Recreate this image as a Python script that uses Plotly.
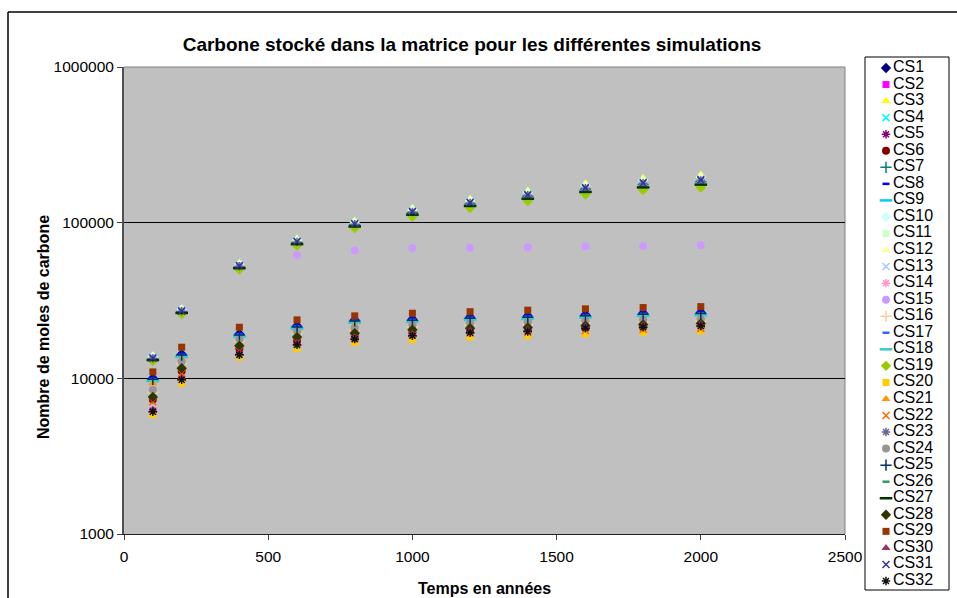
import plotly.graph_objects as go

W, H = 957, 598

years = [100, 200, 400, 600, 800, 1000, 1200, 1400, 1600, 1800, 2000]

cs1 = [10000, 14300, 19300, 21700, 23700, 24000, 24700, 25100, 25600, 26200, 26500]
cs2 = [6160, 9880, 14290, 16560, 18030, 18940, 19800, 20200, 21210, 21510, 21920]
cs3 = [14000, 28200, 55000, 79000, 103000, 124000, 142500, 161000, 179000, 194000, 204000]
cs4 = [13700, 27500, 53600, 76800, 100000, 120000, 137500, 154500, 171500, 185000, 193500]
cs5 = [6070, 9730, 14080, 16320, 17760, 18660, 19500, 19900, 20900, 21190, 21590]
cs6 = [7300, 11140, 15550, 17660, 18720, 19680, 20160, 20350, 20930, 21310, 21600]
cs7 = [13300, 26800, 52000, 74500, 96800, 115800, 132000, 147800, 163800, 176000, 183500]
cs8 = [10100, 14450, 19500, 21900, 23950, 24250, 24950, 25350, 25850, 26450, 26750]
cs9 = [9700, 13870, 18720, 21050, 22990, 23280, 23960, 24350, 24830, 25410, 25700]
cs10 = [13800, 27700, 54000, 77500, 101000, 121500, 139000, 156500, 174000, 187500, 196500]
cs11 = [7980, 12160, 16960, 19000, 19950, 20900, 21470, 21760, 22230, 22560, 22800]
cs12 = [13900, 27900, 54500, 78200, 102000, 122800, 141000, 159000, 176500, 191000, 200500]
cs13 = [13600, 27300, 53200, 76200, 99200, 119000, 136000, 152500, 169500, 182500, 191000]
cs14 = [8570, 13060, 18210, 20400, 21420, 22440, 23050, 23360, 23870, 24230, 24480]
cs15 = [13450, 27000, 52600, 62100, 66200, 68500, 69000, 69600, 70200, 70900, 71700]
cs16 = [8150, 12420, 17310, 19400, 20370, 21340, 21920, 22210, 22700, 23040, 23280]
cs17 = [9900, 14150, 19100, 21500, 23450, 23750, 24450, 24850, 25350, 25950, 26250]
cs18 = [9600, 13730, 18530, 20830, 22750, 23040, 23710, 24100, 24580, 25150, 25440]
cs19 = [12900, 25900, 50000, 71200, 92200, 109500, 124000, 137800, 151500, 162000, 168000]
cs20 = [5850, 9300, 13700, 15600, 17000, 17700, 18400, 18800, 19300, 19800, 20200]
cs21 = [9300, 13300, 17950, 20180, 22040, 22320, 22970, 23340, 23810, 24370, 24650]
cs22 = [7070, 10790, 15070, 17110, 18140, 19070, 19530, 19720, 20270, 20650, 20930]
cs23 = [13400, 27000, 52500, 75200, 97800, 117000, 133800, 150000, 166500, 179000, 187000]
cs24 = [8400, 12800, 17850, 20000, 21000, 22000, 22600, 22900, 23400, 23750, 24000]
cs25 = [9850, 14100, 19000, 21400, 23350, 23650, 24350, 24700, 25200, 25800, 26100]
cs26 = [7750, 11830, 16520, 18770, 19890, 20910, 21420, 21620, 22240, 22640, 22950]
cs27 = [13100, 26300, 51000, 72800, 94500, 112500, 128000, 142500, 157500, 168500, 175500]
cs28 = [7600, 11600, 16200, 18400, 19500, 20500, 21000, 21200, 21800, 22200, 22500]
cs29 = [11000, 15850, 21300, 23750, 25200, 26200, 26800, 27400, 27950, 28500, 28900]
cs30 = [6280, 10070, 14570, 16890, 18390, 19310, 20190, 20600, 21630, 21940, 22350]
cs31 = [13500, 27100, 52800, 75600, 98300, 117800, 134600, 150800, 167300, 180200, 188300]
cs32 = [6100, 9780, 14150, 16400, 17850, 18750, 19600, 20000, 21000, 21300, 21700]

series_values = [cs1, cs2, cs3, cs4, cs5, cs6, cs7, cs8, cs9, cs10, cs11, cs12, cs13, cs14, cs15, cs16,
                 cs17, cs18, cs19, cs20, cs21, cs22, cs23, cs24, cs25, cs26, cs27, cs28, cs29, cs30, cs31, cs32]
series_names = ["CS%d" % (i + 1) for i in range(32)]

colors = ["#000080", "#FF00FF", "#FFFF00", "#00FFFF", "#800080", "#800000", "#008080", "#0000FF",
          "#00CCFF", "#CCFFFF", "#CCFFCC", "#FFFF99", "#99CCFF", "#FF99CC", "#CC99FF", "#FFCC99",
          "#3366FF", "#33CCCC", "#99CC00", "#FFCC00", "#FF9900", "#FF6600", "#666699", "#969696",
          "#003366", "#339966", "#003300", "#333300", "#993300", "#993366", "#333399", "#111111"]

marker_cycle = ["diamond", "square", "triangle", "x", "star", "circle", "plus", "shortdash", "longdash"]

y_ticks = [1000, 10000, 100000, 1000000]
y_ticklabels = ["1000", "10000", "100000", "1000000"]
x_ticks = [0, 500, 1000, 1500, 2000, 2500]

FONT = "Liberation Sans, Arial, sans-serif"


def marker_style(kind, color):
    if kind == "diamond":
        return dict(symbol="diamond", size=8, color=color, line=dict(width=0))
    if kind == "square":
        return dict(symbol="square", size=7, color=color, line=dict(width=0))
    if kind == "triangle":
        return dict(symbol="triangle-up", size=8, color=color, line=dict(width=0))
    if kind == "x":
        return dict(symbol="x-thin-open", size=7, color=color, line=dict(width=1.5))
    if kind == "star":
        return dict(symbol="asterisk-open", size=7, color=color, line=dict(width=1.5))
    if kind == "circle":
        return dict(symbol="circle", size=8, color=color, line=dict(width=0))
    if kind == "plus":
        return dict(symbol="cross-thin-open", size=8, color=color, line=dict(width=1.5))
    if kind == "shortdash":
        return dict(symbol="line-ew-open", size=5, color=color, line=dict(width=2.5))
    return dict(symbol="line-ew-open", size=9, color=color, line=dict(width=2.5))


fig = go.Figure()

for i, (name, vals) in enumerate(zip(series_names, series_values)):
    kind = marker_cycle[i % len(marker_cycle)]
    fig.add_trace(go.Scatter(x=years, y=vals, mode="markers", name=name,
                             marker=marker_style(kind, colors[i]), showlegend=False,
                             xaxis="x", yaxis="y"))

# custom legend (drawn in a dedicated small subplot)
for i, name in enumerate(series_names):
    kind = marker_cycle[i % len(marker_cycle)]
    fig.add_trace(go.Scatter(x=[21], y=[i], mode="markers", marker=marker_style(kind, colors[i]),
                             showlegend=False, hoverinfo="skip", xaxis="x2", yaxis="y2"))
fig.add_trace(go.Scatter(x=[28] * len(series_names), y=list(range(len(series_names))), mode="text",
                         text=series_names, textposition="middle right",
                         textfont=dict(family=FONT, size=16, color="black"),
                         showlegend=False, hoverinfo="skip", xaxis="x2", yaxis="y2"))


def px_x(p):
    return p / W


def px_y(p):
    return 1 - p / H


plot_l, plot_r, plot_t, plot_b = 124, 845, 67, 534
leg_l, leg_r, leg_t, leg_b = 865, 949, 57, 590
first_item, last_item = 68, 581
step = (last_item - first_item) / 31

fig.update_layout(
    width=W, height=H,
    margin=dict(l=0, r=0, t=0, b=0, pad=0, autoexpand=False),
    paper_bgcolor="white",
    plot_bgcolor="#C0C0C0",
    font=dict(family=FONT, size=15.5, color="black"),
    title=dict(text="<b>Carbone stocké dans la matrice pour les différentes simulations</b>",
               font=dict(family=FONT, size=19, color="black"),
               x=px_x(472), y=px_y(44), xanchor="center", yanchor="middle", automargin=False),
    xaxis=dict(domain=[px_x(plot_l), px_x(plot_r)], range=[0, 2500], tickvals=x_ticks,
               ticks="outside", ticklen=5, tickcolor="#404040", showgrid=False,
               showline=True, linecolor="#202020", linewidth=1, zeroline=False, automargin=False,
               tickfont=dict(family=FONT, size=15.5), ticklabelstandoff=3, anchor="y"),
    yaxis=dict(domain=[px_y(plot_b), px_y(plot_t)], type="log", range=[3, 6],
               tickvals=y_ticks, ticktext=y_ticklabels, ticks="outside", ticklen=5,
               tickcolor="#404040", showgrid=True, gridcolor="black", gridwidth=1,
               showline=True, linecolor="#505050", linewidth=2, zeroline=False, automargin=False,
               tickfont=dict(family=FONT, size=15.5), anchor="x"),
    xaxis2=dict(domain=[px_x(leg_l), px_x(leg_r)], range=[0, leg_r - leg_l], visible=False,
                showgrid=False, zeroline=False, anchor="y2", fixedrange=True, automargin=False),
    yaxis2=dict(domain=[px_y(leg_b), px_y(leg_t)],
                range=[31 + (leg_b - last_item) / step, -(first_item - leg_t) / step],
                visible=False, showgrid=False, zeroline=False, anchor="x2", fixedrange=True,
                automargin=False),
    shapes=[
        dict(type="line", xref="paper", yref="paper", x0=px_x(8), x1=1.0, y0=px_y(12), y1=px_y(12),
             line=dict(color="black", width=1.5), layer="below"),
        dict(type="line", xref="paper", yref="paper", x0=px_x(8), x1=px_x(8), y0=0.0, y1=px_y(12),
             line=dict(color="black", width=1.5), layer="below"),
        dict(type="rect", xref="paper", yref="paper", x0=px_x(leg_l), x1=px_x(leg_r),
             y0=px_y(leg_b), y1=px_y(leg_t), line=dict(color="black", width=1),
             fillcolor="white", layer="below"),
        dict(type="line", xref="paper", yref="paper", x0=px_x(plot_l), x1=px_x(plot_r),
             y0=px_y(plot_t), y1=px_y(plot_t), line=dict(color="#808080", width=1), layer="below"),
        dict(type="line", xref="paper", yref="paper", x0=px_x(plot_r), x1=px_x(plot_r),
             y0=px_y(plot_b), y1=px_y(plot_t), line=dict(color="#808080", width=1), layer="below"),
    ],
    annotations=[
        dict(text="<b>Temps en années</b>", xref="paper", yref="paper", x=px_x(484), y=px_y(588),
             xanchor="center", yanchor="middle", showarrow=False, font=dict(family=FONT, size=16)),
        dict(text="<b>Nombre de moles de carbone</b>", xref="paper", yref="paper", x=px_x(43),
             y=px_y(327), xanchor="center", yanchor="middle", textangle=-90, showarrow=False,
             font=dict(family=FONT, size=16)),
    ],
)

fig.write_html("out.html", config={"displayModeBar": False},
               post_script="document.body.style.margin='0';document.body.style.overflow='hidden';")
